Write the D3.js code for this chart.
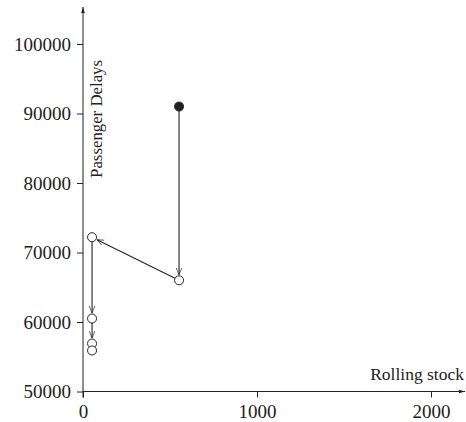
<!DOCTYPE html>
<html><head><meta charset="utf-8">
<script src="https://cdn.jsdelivr.net/npm/d3@7"></script>
<style>body{margin:0;background:#fff}svg{display:block}</style>
</head><body>
<svg id="c" width="466" height="422"></svg>
<script>
const rollingStock = [552, 552, 52, 52, 52, 52];
const passengerDelays = [91000, 66000, 72200, 60500, 56900, 55900];
const filled = [true, false, false, false, false, false];
const xTicks = [0, 1000, 2000];
const yTicks = [50000, 60000, 70000, 80000, 90000, 100000];
const xLabel = "Rolling stock";
const yLabel = "Passenger Delays";

const FONT = '"Liberation Serif"';
const svg = d3.select("#c");
const x = d3.scaleLinear().domain([0, 2000]).range([83, 431]);
const y = d3.scaleLinear().domain([50000, 100000]).range([391.5, 44]);
const ink = "#222";

const defs = svg.append("defs");
defs.append("marker")
  .attr("id","arr").attr("viewBox","0 -5 10 10").attr("refX",10).attr("refY",0)
  .attr("markerWidth",7).attr("markerHeight",7).attr("orient","auto")
  .attr("markerUnits","userSpaceOnUse")
  .append("path").attr("d","M0,-4L10,0L0,4").attr("fill","none").attr("stroke",ink).attr("stroke-width",1);
defs.append("marker")
  .attr("id","axarr").attr("viewBox","0 -5 10 10").attr("refX",10).attr("refY",0)
  .attr("markerWidth",6).attr("markerHeight",6).attr("orient","auto")
  .attr("markerUnits","userSpaceOnUse")
  .append("path").attr("d","M0,-3L10,0L0,3Z").attr("fill",ink);

// axes
const xAxis = d3.axisBottom(x).tickValues(xTicks).tickSize(6).tickFormat(d3.format("d"));
const gx = svg.append("g").attr("transform",`translate(0,${y(50000)})`).call(xAxis);
gx.select(".domain").remove();
gx.selectAll("line").attr("stroke",ink);
gx.selectAll("text").attr("y",26.5).attr("dy",0).attr("fill",ink)
  .style("font-family",FONT).style("font-size","19px");

const yAxis = d3.axisLeft(y).tickValues(yTicks).tickSize(6).tickFormat(d3.format("d"));
const gy = svg.append("g").attr("transform",`translate(${x(0)},0)`).call(yAxis);
gy.select(".domain").remove();
gy.selectAll("line").attr("stroke",ink);
gy.selectAll("text").attr("x",-12).attr("fill",ink)
  .style("font-family",FONT).style("font-size","19px");

svg.append("line").attr("x1",x(0)).attr("x2",465).attr("y1",y(50000)).attr("y2",y(50000))
  .attr("stroke",ink).attr("stroke-width",1).attr("marker-end","url(#axarr)");
svg.append("line").attr("x1",x(0)).attr("x2",x(0)).attr("y1",y(50000)+6).attr("y2",7)
  .attr("stroke",ink).attr("stroke-width",1).attr("marker-end","url(#axarr)");

svg.append("text").attr("x",464).attr("y",380).attr("text-anchor","end")
  .style("font-family",FONT).style("font-size","17.5px").attr("fill",ink).text(xLabel);
svg.append("text").attr("transform",`translate(102,60) rotate(-90)`).attr("text-anchor","end")
  .style("font-family",FONT).style("font-size","16.8px").attr("fill",ink).text(yLabel);

// arrows between consecutive points
const pts = rollingStock.map((v,i)=>({x:x(v), y:y(passengerDelays[i]), f:filled[i]}));
const r = 4.5;
for (let i=0;i<pts.length-2;i++){
  const a=pts[i], b=pts[i+1];
  const dx=b.x-a.x, dy=b.y-a.y, L=Math.hypot(dx,dy);
  const ux=dx/L, uy=dy/L;
  svg.append("line").attr("x1",a.x+ux*r).attr("y1",a.y+uy*r)
    .attr("x2",b.x-ux*(r+1)).attr("y2",b.y-uy*(r+1))
    .attr("stroke",ink).attr("stroke-width",1.1).attr("marker-end","url(#arr)");
}
svg.selectAll("circle.p").data(pts).join("circle").attr("class","p")
  .attr("cx",d=>d.x).attr("cy",d=>d.y).attr("r",r)
  .attr("fill",d=>d.f?ink:"#fff").attr("stroke",ink).attr("stroke-width",1);
</script>
</body></html>
